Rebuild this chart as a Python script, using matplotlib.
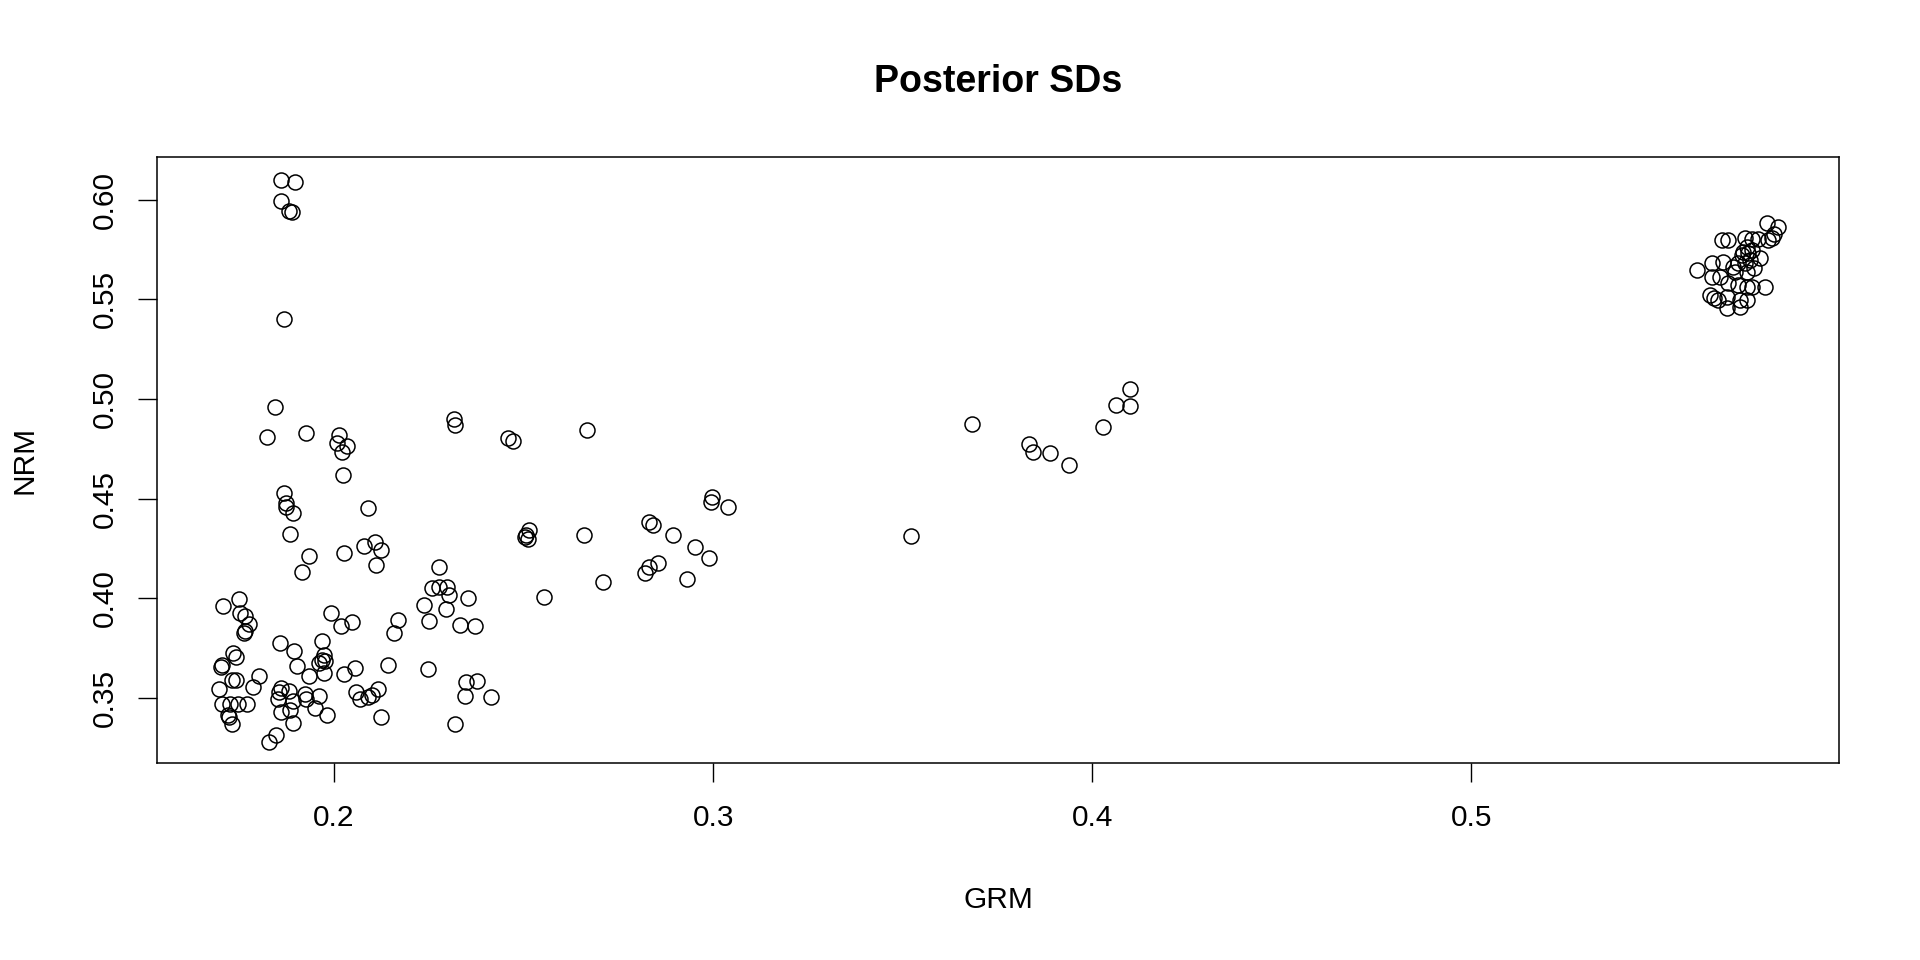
"""Posterior SDs: GRM vs NRM scatter (base-R look)."""
import matplotlib
matplotlib.use('Agg')
import matplotlib.pyplot as plt

plt.rcParams['font.family'] = ['Liberation Sans', 'DejaVu Sans']

# posterior SDs
grm = [
    # upper-left column
    0.1859, 0.1897, 0.1859, 0.1881, 0.1888, 0.1867, 0.1844, 0.1823, 0.1927,
    0.2013, 0.2008, 0.2033, 0.2020, 0.2317, 0.2319, 0.2459, 0.2471,
    # middle-left
    0.2023, 0.1868, 0.1873, 0.1873, 0.1891, 0.1885, 0.2089, 0.1934, 0.1915,
    0.2026, 0.2078, 0.2109, 0.2123, 0.2111,
    0.2278, 0.2259, 0.2276, 0.2297, 0.2303, 0.2352, 0.2238, 0.2295, 0.2250,
    0.2332, 0.2371,
    0.1749, 0.1708, 0.1753, 0.1764, 0.1775, 0.1765, 0.1762,
    0.1993, 0.2017, 0.2047, 0.2168, 0.2158,
    0.1857, 0.1894, 0.1968, 0.1973, 0.1969, 0.1975, 0.1960, 0.1974, 0.1901,
    0.1933,
    0.1734, 0.1742, 0.1704, 0.1702, 0.1732, 0.1741, 0.1803, 0.1786, 0.1697,
    0.1704, 0.1725, 0.1747, 0.1771, 0.1719, 0.1722, 0.1731,
    0.1859, 0.1855, 0.1880, 0.1852, 0.1892, 0.1883, 0.1859, 0.1891, 0.1922,
    0.1927, 0.1959, 0.1950, 0.1981, 0.1846, 0.1827,
    0.2026, 0.2055, 0.2142, 0.2058, 0.2068, 0.2090, 0.2101, 0.2115, 0.2123,
    0.2249, 0.2349, 0.2376, 0.2346, 0.2413, 0.2318,
    # middle
    0.2666, 0.2998, 0.2995, 0.3038, 0.2831, 0.2842, 0.2893, 0.2952, 0.2989,
    0.2855, 0.2831, 0.2821, 0.2932, 0.2660, 0.2710, 0.2553, 0.2515, 0.2506,
    0.2503, 0.2512,
    0.3523,
    0.3683, 0.3833, 0.3843, 0.3889, 0.3939, 0.4029, 0.4064, 0.4099, 0.4101,
    # right cluster
    0.5779, 0.5808, 0.5799, 0.5794, 0.5782, 0.5757, 0.5740, 0.5722, 0.5661,
    0.5678, 0.5727, 0.5718, 0.5731, 0.5740, 0.5762, 0.5735, 0.5722, 0.5704,
    0.5595, 0.5634, 0.5665, 0.5691, 0.5696, 0.5727, 0.5634, 0.5656, 0.5678,
    0.5704, 0.5727, 0.5740, 0.5775, 0.5630, 0.5639, 0.5674, 0.5709, 0.5727,
    0.5652, 0.5674, 0.5709, 0.5715, 0.5745,
]
nrm = [
    0.6098, 0.6089, 0.5993, 0.5944, 0.5939, 0.5399, 0.4958, 0.4810, 0.4827,
    0.4817, 0.4780, 0.4764, 0.4734, 0.4898, 0.4868, 0.4806, 0.4790,
    0.4620, 0.4527, 0.4480, 0.4459, 0.4429, 0.4324, 0.4454, 0.4211, 0.4134,
    0.4229, 0.4261, 0.4282, 0.4241, 0.4166,
    0.4155, 0.4052, 0.4058, 0.4058, 0.4015, 0.4000, 0.3966, 0.3948, 0.3888,
    0.3865, 0.3860,
    0.3998, 0.3961, 0.3928, 0.3911, 0.3870, 0.3838, 0.3824,
    0.3928, 0.3861, 0.3883, 0.3893, 0.3827,
    0.3777, 0.3737, 0.3786, 0.3716, 0.3691, 0.3686, 0.3674, 0.3624, 0.3659,
    0.3609,
    0.3724, 0.3706, 0.3667, 0.3657, 0.3590, 0.3590, 0.3612, 0.3557, 0.3547,
    0.3470, 0.3468, 0.3470, 0.3468, 0.3415, 0.3403, 0.3370,
    0.3549, 0.3532, 0.3535, 0.3493, 0.3486, 0.3440, 0.3428, 0.3376, 0.3520,
    0.3493, 0.3510, 0.3448, 0.3415, 0.3316, 0.3281,
    0.3620, 0.3649, 0.3664, 0.3532, 0.3493, 0.3503, 0.3515, 0.3544, 0.3403,
    0.3644, 0.3582, 0.3587, 0.3510, 0.3507, 0.3370,
    0.4844, 0.4510, 0.4481, 0.4458, 0.4384, 0.4366, 0.4319, 0.4256, 0.4201,
    0.4176, 0.4155, 0.4125, 0.4095, 0.4319, 0.4080, 0.4005, 0.4343, 0.4318,
    0.4309, 0.4296,
    0.4312,
    0.4876, 0.4774, 0.4734, 0.4730, 0.4667, 0.4861, 0.4968, 0.5050, 0.4966,
    0.5881, 0.5864, 0.5827, 0.5805, 0.5797, 0.5800, 0.5800, 0.5805, 0.5797,
    0.5797, 0.5763, 0.5738, 0.5730, 0.5747, 0.5705, 0.5697, 0.5680, 0.5680,
    0.5646, 0.5680, 0.5688, 0.5663, 0.5638, 0.5638, 0.5613, 0.5613, 0.5580,
    0.5571, 0.5563, 0.5563, 0.5563, 0.5521, 0.5505, 0.5513, 0.5496, 0.5496,
    0.5496, 0.5454, 0.5462, 0.5722, 0.5655,
]

xticks = [0.2, 0.3, 0.4, 0.5]
yticks = [0.35, 0.40, 0.45, 0.50, 0.55, 0.60]

fig = plt.figure(figsize=(19.2, 9.6), dpi=100)
ax = fig.add_axes([0.0818, 0.2052, 0.876, 0.6313])

ax.plot(grm, nrm, linestyle='none', marker='o', markersize=10.8,
        markerfacecolor='none', markeredgecolor='black', markeredgewidth=1.1)

ax.set_xlim(0.1533, 0.597)
ax.set_ylim(0.3174, 0.6214)
ax.set_xticks(xticks)
ax.set_xticklabels([f'{v:.1f}' for v in xticks])
ax.set_yticks(yticks)
ax.set_yticklabels([f'{v:.2f}' for v in yticks], rotation=90, va='center')

for s in ax.spines.values():
    s.set_linewidth(1.1)
ax.tick_params(direction='out', length=13.5, width=1.0, labelsize=21.5,
               color='black')
ax.tick_params(axis='x', pad=16)
ax.tick_params(axis='y', pad=14)

ax.set_xlabel('GRM', fontsize=21.5, va='center')
ax.xaxis.set_label_coords(0.5, -0.226)
ax.set_ylabel('NRM', fontsize=21.5, va='center')
ax.yaxis.set_label_coords(-0.079, 0.5)

ax.set_title('Posterior SDs', fontsize=27, fontweight='bold',
             y=1.123, va='center', pad=0)

fig.savefig('out.png', dpi=100, facecolor='white')
